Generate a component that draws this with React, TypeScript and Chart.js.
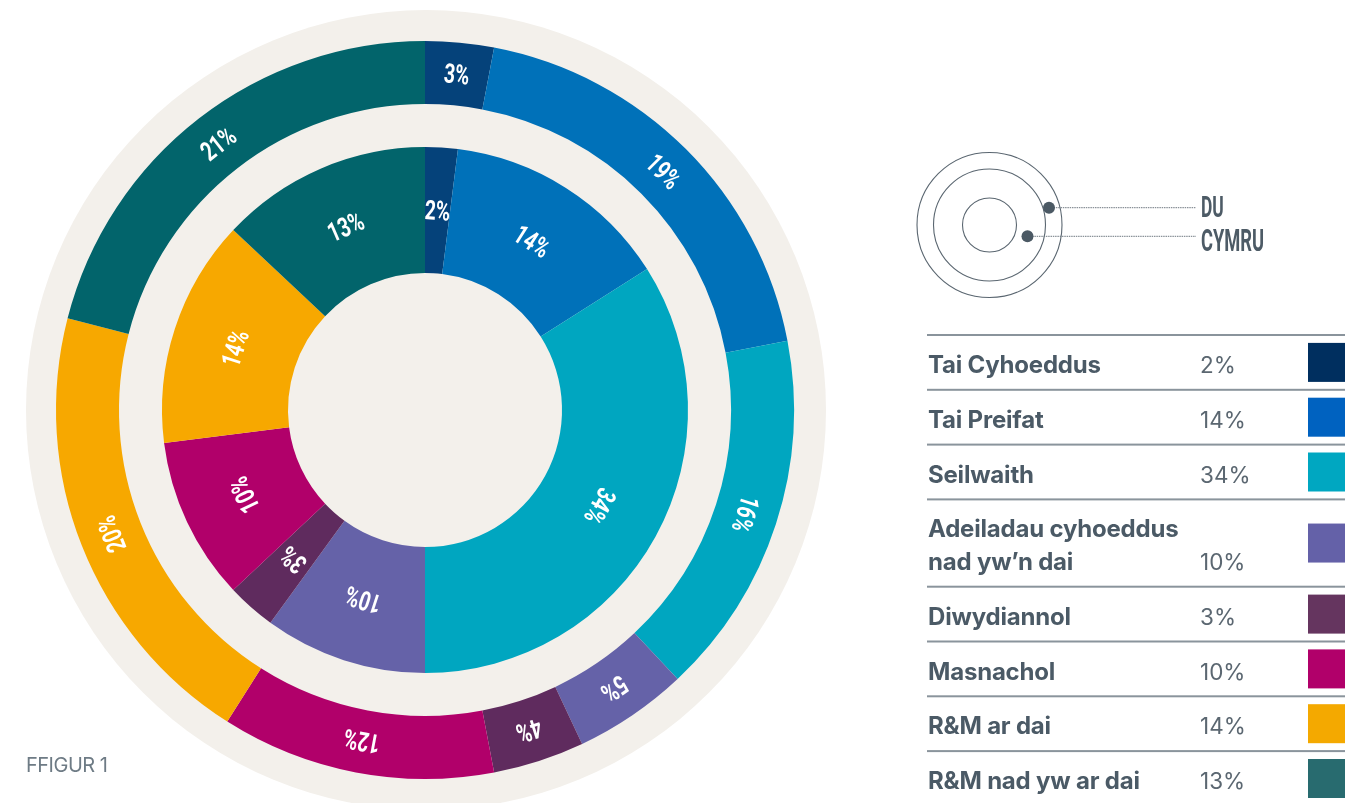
import React, { useEffect, useRef } from 'react';
import { Chart, registerables } from 'chart.js';

Chart.register(...registerables);

// ---------- data ----------
const categories = [
  'Tai Cyhoeddus',
  'Tai Preifat',
  'Seilwaith',
  'Adeiladau cyhoeddus\nnad yw’n dai',
  'Diwydiannol',
  'Masnachol',
  'R&M ar dai',
  'R&M nad yw ar dai',
];
const duValues = [3, 19, 16, 5, 4, 12, 20, 21];
const cymruValues = [2, 14, 34, 10, 3, 10, 14, 13];
const ringNames = ['DU', 'CYMRU'];
const figureLabel = 'FFIGUR 1';

const arcColors = ['#05427a', '#0071b9', '#00a6c0', '#6562a8', '#5f2b5e', '#b1006a', '#f7a800', '#02646b'];
const legendColors = ['#002f5f', '#0062c0', '#00a7c1', '#6461a8', '#65355f', '#b1006a', '#f4a900', '#286b6f'];
const BEIGE = '#f3f0eb';

const OUTER_R = 369;
const INNER_CUT = 137;

const backdropPlugin = {
  id: 'backdrop',
  beforeDatasetsDraw(chart: any) {
    const arc = chart.getDatasetMeta(0).data[0];
    if (!arc) return;
    const p = arc.getProps(['x', 'y', 'outerRadius'], true);
    const ctx = chart.ctx;
    ctx.save();
    ctx.fillStyle = BEIGE;
    ctx.beginPath();
    ctx.arc(p.x + 1, p.y, p.outerRadius + 31, 0, Math.PI * 2);
    ctx.fill();
    ctx.restore();
  },
};

const arcLabelPlugin = {
  id: 'arcLabels',
  afterDatasetsDraw(chart: any) {
    const ctx = chart.ctx;
    [0, 2].forEach((di) => {
      const meta = chart.getDatasetMeta(di);
      const values = chart.data.datasets[di].data;
      meta.data.forEach((arc: any, i: number) => {
        const p = arc.getProps(['x', 'y', 'startAngle', 'endAngle', 'innerRadius', 'outerRadius'], true);
        const mid = (p.startAngle + p.endAngle) / 2;
        const r = (p.innerRadius + p.outerRadius) / 2;
        const x = p.x + r * Math.cos(mid);
        const y = p.y + r * Math.sin(mid);
        ctx.save();
        ctx.translate(x, y);
        ctx.rotate(mid + Math.PI / 2);
        ctx.scale(0.72, 1);
        ctx.fillStyle = '#ffffff';
        ctx.font = 'bold 27px Roboto';
        ctx.textAlign = 'center';
        ctx.textBaseline = 'alphabetic';
        ctx.fillText(`${values[i]}%`, 0, 9.5);
        ctx.restore();
      });
    });
  },
};

function Legend() {
  const lineTops: number[] = [];
  const rows: any[] = [];
  let y = 335;
  categories.forEach((cat, i) => {
    const lines = cat.split('\n');
    const h = 54.8 + (lines.length - 1) * 32.5;
    lineTops.push(y);
    rows.push({ cat, lines, top: y, h, i });
    y += h;
  });
  return (
    <g>
      {lineTops.map((t, i) => (
        <rect key={'l' + i} x={927} y={t - 1} width={420} height={2} fill="#8a949c" />
      ))}
      {rows.map((r) => {
        const base1 = r.top + 38;
        const lastBase = base1 + (r.lines.length - 1) * 33;
        return (
          <g key={'r' + r.i}>
            {r.lines.map((ln: string, k: number) => (
              <text
                key={k}
                x={928}
                y={base1 + k * 33}
                fontFamily="Inter"
                fontWeight={700}
                fontSize={24}
                letterSpacing={-0.2}
                fill="#4b5a66"
              >
                {ln}
              </text>
            ))}
            <text x={1200} y={lastBase} fontFamily="Inter" fontWeight={400} fontSize={22.5} fill="#5b6771">
              {`${cymruValues[r.i]}%`}
            </text>
            <rect x={1308} y={r.top + (r.h - 39) / 2} width={40} height={39} fill={legendColors[r.i]} />
          </g>
        );
      })}
    </g>
  );
}

function RingKey() {
  const cx = 989.5;
  const cy = 225;
  return (
    <g>
      <circle cx={cx} cy={cy} r={72.5} fill="none" stroke="#5a6670" strokeWidth={1.1} />
      <circle cx={cx} cy={cy} r={56} fill="none" stroke="#5a6670" strokeWidth={1.1} />
      <circle cx={cx} cy={cy} r={27} fill="none" stroke="#5a6670" strokeWidth={1.1} />
      <line x1={1049} y1={207.7} x2={1196} y2={207.7} stroke="#6f7880" strokeWidth={1} strokeDasharray="1.5 0.8" />
      <line x1={1027.5} y1={236.3} x2={1196} y2={236.3} stroke="#6f7880" strokeWidth={1} strokeDasharray="1.5 0.8" />
      <circle cx={1049} cy={207.7} r={6} fill="#4b5964" />
      <circle cx={1027.5} cy={236.3} r={6} fill="#4b5964" />
      <text transform="translate(1201,217) scale(0.6,1)" fontFamily="Roboto" fontWeight={700} fontSize={29} fill="#4d5b66">
        {ringNames[0]}
      </text>
      <text transform="translate(1201,250.5) scale(0.6,1)" fontFamily="Roboto" fontWeight={700} fontSize={30.5} fill="#4d5b66">
        {ringNames[1]}
      </text>
    </g>
  );
}

export default function App() {
  const canvasRef = useRef<HTMLCanvasElement | null>(null);

  useEffect(() => {
    const canvas = canvasRef.current;
    if (!canvas) return;
    const chart = new Chart(canvas, {
      type: 'doughnut',
      data: {
        labels: categories.map((c) => c.replace('\n', ' ')),
        datasets: [
          { label: ringNames[0], data: duValues, backgroundColor: arcColors, borderWidth: 0, weight: 63 } as any,
          { label: 'gap', data: [1], backgroundColor: 'rgba(0,0,0,0)', borderWidth: 0, weight: 43 } as any,
          { label: ringNames[1], data: cymruValues, backgroundColor: arcColors, borderWidth: 0, weight: 126 } as any,
        ],
      },
      options: {
        responsive: false,
        animation: false,
        events: [],
        radius: OUTER_R,
        cutout: `${((INNER_CUT / OUTER_R) * 100).toFixed(3)}%`,
        layout: { padding: { left: 0, right: 10, top: 17, bottom: 0 } },
        elements: { arc: { borderWidth: 0 } },
        plugins: { legend: { display: false }, tooltip: { enabled: false } },
      } as any,
      plugins: [backdropPlugin, arcLabelPlugin],
    });
    return () => chart.destroy();
  }, []);

  return (
    <div
      style={{
        position: 'absolute',
        left: 0,
        top: 0,
        width: 1345,
        height: 803,
        overflow: 'hidden',
        background: '#ffffff',
      }}
    >
      <canvas ref={canvasRef} width={860} height={803} style={{ position: 'absolute', left: 0, top: 0 }} />
      <svg
        width={1345}
        height={803}
        style={{ position: 'absolute', left: 0, top: 0, pointerEvents: 'none' }}
      >
        <RingKey />
        <Legend />
        <text x={26} y={772} fontFamily="Inter" fontWeight={400} fontSize={20} letterSpacing={-0.5} fill="#6e7b85">
          {figureLabel}
        </text>
      </svg>
    </div>
  );
}
